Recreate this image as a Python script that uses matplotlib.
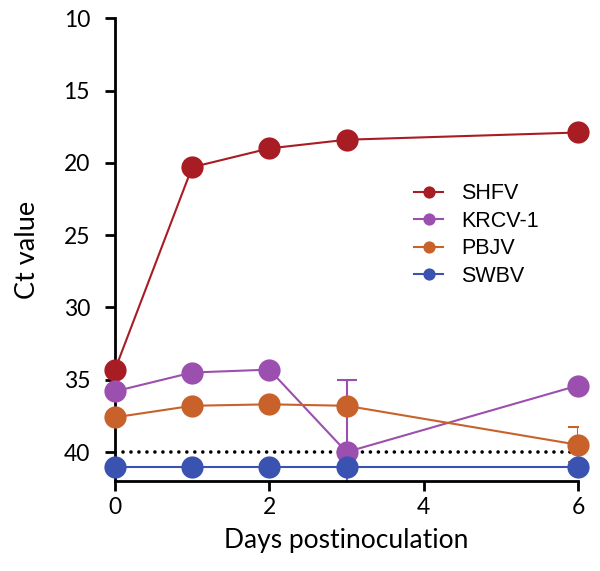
import matplotlib.pyplot as plt
import numpy as np

# data
days = [0, 1, 2, 3, 6]
shfv = [34.3, 20.3, 19.0, 18.4, 17.9]
krcv = [35.8, 34.5, 34.3, 40.0, 35.4]
pbjv = [37.6, 36.8, 36.7, 36.8, 39.5]
swbv = [41.04, 41.04, 41.04, 41.04, 41.04]

# error bars (lower, upper) per point
krcv_err_dn = [0, 0, 0, 5.0, 0]
krcv_err_up = [0, 0, 0, 4.95, 0]
pbjv_err_dn = [0, 0, 0, 0, 1.2]
pbjv_err_up = [0, 0, 0, 0, 1.2]

names = ['SHFV', 'KRCV-1', 'PBJV', 'SWBV']
colors = ['#a81c24', '#9b4fae', '#c8622a', '#3a52b0']
cutoff = 40

fig = plt.figure(figsize=(6, 5.71), dpi=100)
ax = fig.add_axes([0.1917, 0.1582, 0.7717, 0.8098])

series = [shfv, krcv, pbjv, swbv]
errs = [None, (krcv_err_dn, krcv_err_up), (pbjv_err_dn, pbjv_err_up), None]

ax.plot([0, 6], [cutoff, cutoff], color='black', lw=2.6, ls=(0, (0.01, 2.2)),
        dash_capstyle='round', zorder=1)

for vals, err, c, name in zip(series, errs, colors, names):
    if err is not None:
        ax.errorbar(days, vals, yerr=[err[0], err[1]], fmt='none', ecolor=c,
                    elinewidth=1.5, capsize=7.5, capthick=1.5, zorder=2)
    ax.plot(days, vals, color=c, lw=1.5, marker='o', markersize=16,
            markeredgewidth=0, label=name, clip_on=False, zorder=3)

ax.set_xlim(0, 6)
ax.set_ylim(41.98, 10)
ax.set_xticks([0, 2, 4, 6])
ax.set_yticks([10, 15, 20, 25, 30, 35, 40])

for s in ['top', 'right']:
    ax.spines[s].set_visible(False)
for s in ['left', 'bottom']:
    ax.spines[s].set_linewidth(2)
ax.tick_params(width=2, length=7, labelsize=16.5)
ax.tick_params(axis='x', pad=5)
ax.tick_params(axis='y', pad=11)
for lab in ax.get_xticklabels() + ax.get_yticklabels():
    lab.set_family('Lato')

ax.set_xlabel('Days postinoculation', fontsize=19, family='Lato', labelpad=7)
ax.set_ylabel('Ct value', fontsize=19.5, family='Lato', labelpad=17)

leg = ax.legend(loc='upper left', bbox_to_anchor=(0.69, 0.679),
                bbox_transform=fig.transFigure, frameon=False, borderpad=0,
                borderaxespad=0, markerscale=0.55, handlelength=1.35,
                handletextpad=0.84, labelspacing=0.3,
                prop={'family': 'Liberation Sans', 'size': 15.5})

fig.savefig('out.png', dpi=100)
